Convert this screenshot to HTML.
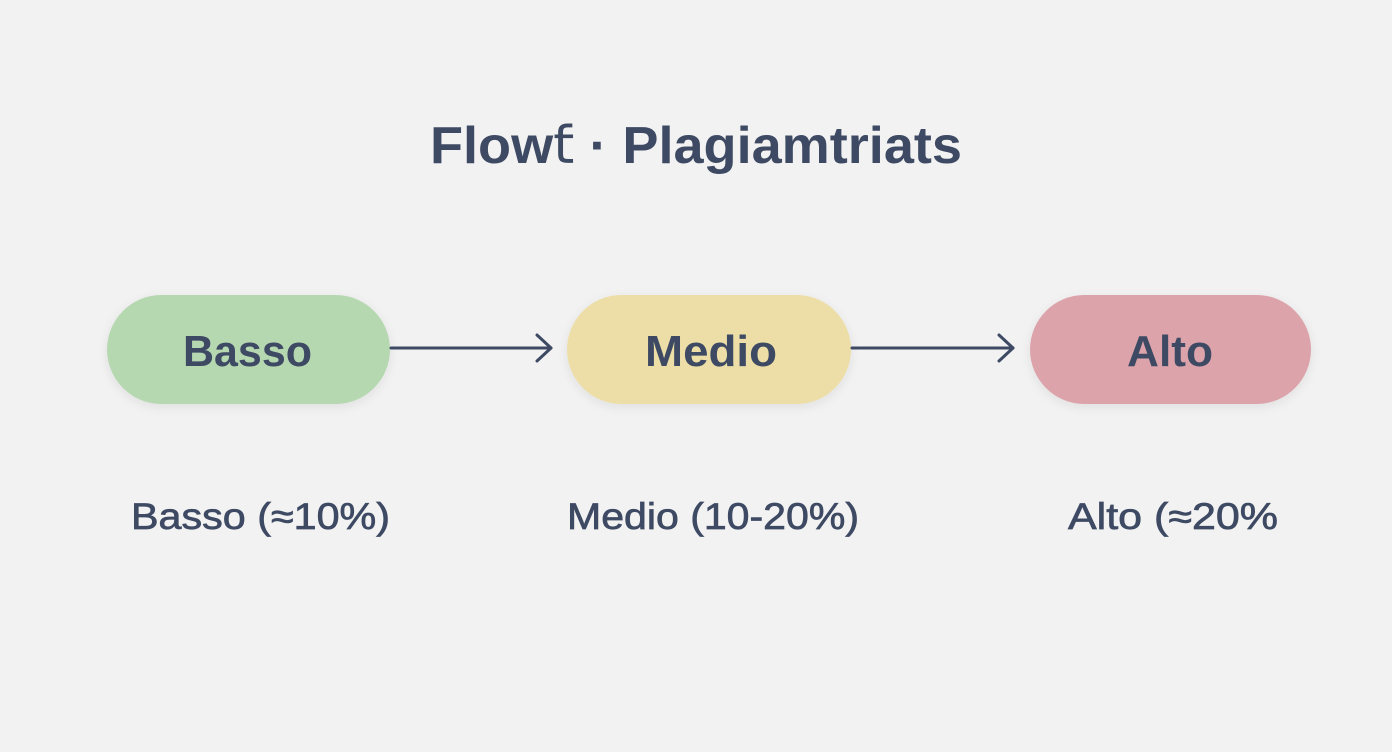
<!DOCTYPE html>
<html><head><meta charset="utf-8"><style>
html,body{margin:0;padding:0;background:#f2f2f2;}
svg{display:block}
text{font-family:"Liberation Sans",sans-serif;fill:#3e4a63;}
.l{stroke:#3e4a63;stroke-width:0.7;}
</style></head><body>
<svg width="1392" height="752" viewBox="0 0 1392 752">
<defs><filter id="s" x="-20%" y="-30%" width="140%" height="160%"><feDropShadow dx="0" dy="3" stdDeviation="5" flood-color="#000" flood-opacity="0.08"/></filter></defs>
<rect width="1392" height="752" fill="#f2f2f2"/>
<text x="430" y="163" font-size="52" font-weight="bold" textLength="532" lengthAdjust="spacingAndGlyphs">Flow<tspan font-family="DejaVu Sans" font-weight="normal">ƭ</tspan> · Plagiamtriats</text>
<rect x="107" y="295" width="283" height="109" rx="54.5" fill="#b6d8b1" filter="url(#s)"/>
<rect x="567" y="295" width="284" height="109" rx="54.5" fill="#ecdea6" filter="url(#s)"/>
<rect x="1030" y="295" width="281" height="109" rx="54.5" fill="#dca3ab" filter="url(#s)"/>
<g stroke="#3e4a63" stroke-width="3" fill="none" stroke-linecap="round" stroke-linejoin="round">
<line x1="391" y1="348" x2="551" y2="348"/><polyline points="537,335 551,348 537,361"/>
<line x1="852" y1="348" x2="1013" y2="348"/><polyline points="999,335 1013,348 999,361"/>
</g>
<text x="183" y="366" font-size="44" font-weight="bold" textLength="129" lengthAdjust="spacingAndGlyphs">Basso</text>
<text x="645" y="366" font-size="44" font-weight="bold" textLength="132" lengthAdjust="spacingAndGlyphs">Medio</text>
<text x="1127" y="366" font-size="44" font-weight="bold" textLength="86" lengthAdjust="spacingAndGlyphs">Alto</text>
<text class="l" x="131" y="529" font-size="37" textLength="259" lengthAdjust="spacingAndGlyphs">Basso (≈10%)</text>
<text class="l" x="567" y="529" font-size="37" textLength="292" lengthAdjust="spacingAndGlyphs">Medio (10-20%)</text>
<text class="l" x="1068" y="529" font-size="37" textLength="210" lengthAdjust="spacingAndGlyphs">Alto (≈20%</text>
</svg>
</body></html>
